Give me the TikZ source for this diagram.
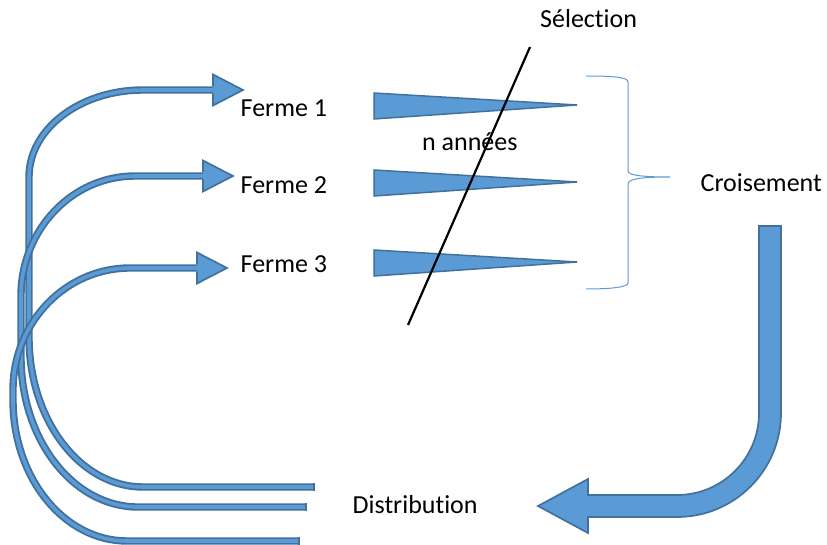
\documentclass[tikz,border=0pt]{standalone}
\usepackage{fontspec}
\setmainfont{Carlito}[Ligatures=NoCommon]
\usepackage{xcolor}
\usepackage{tikz}
\usetikzlibrary{calc}

\definecolor{bleu}{HTML}{5B9BD5}
\definecolor{bleufonce}{HTML}{41719C}

\begin{document}
\begin{tikzpicture}[x=1pt,y=-1pt,
		tube/.style={draw=bleufonce,double=bleu,double distance=3.6pt,line width=1.9pt},
		bout/.style={draw=bleufonce,line width=1.9pt},
		tete/.style={fill=bleu,draw=bleufonce,line width=1.7pt,line join=miter},
		coin/.style={fill=bleu,draw=bleufonce,line width=1.5pt},
		etiq/.style={anchor=base west,inner sep=0pt,font=\fontsize{26}{31}\selectfont}]
		\useasboundingbox (0,0) rectangle (827,545);
		
		\node[etiq] (sel) at (540,27.7) {Sélection};
		\node[etiq] (f1) at (240.5,116.5) {Ferme 1};
		\node[etiq] (f2) at (240.5,193.3) {Ferme 2};
		\node[etiq] (f3) at (240.5,272.5) {Ferme 3};
		\node[etiq] (ans) at (422,150.5) {n années};
		\node[etiq] (crois) at (700.5,191.7) {Croisement};
		\node[etiq] (distr) at (352.5,513.3) {Distribution};
		
		\coordinate (A) at (313,487);
		\coordinate (B) at (305,507);
		\coordinate (C) at (298,541);
		\draw[tube] (A) -- (143,487) arc[start angle=90,end angle=180,x radius=114,y radius=150] -- (29,177) arc[start angle=180,end angle=270,x radius=114,y radius=87] -- (215,90);
		\draw[bout] ($(A)+(0.9,-3.7)$) -- ($(A)+(0.9,3.7)$);
		\fill[tete] (213,86.5) -- (213,74.5) -- (243,90) -- (213,105.5) -- (213,93.5);
		\draw[tube] (B) -- (138,507) arc[start angle=90,end angle=180,x radius=117,y radius=150] -- (21,296) arc[start angle=180,end angle=270,x radius=114,y radius=120] -- (205,176);
		\draw[bout] ($(B)+(0.9,-3.7)$) -- ($(B)+(0.9,3.7)$);
		\fill[tete] (203,172.5) -- (203,160.5) -- (233,176) -- (203,191.5) -- (203,179.5);
		\draw[tube] (C) -- (127,541) arc[start angle=90,end angle=180,x radius=114,y radius=141] -- (13,390) arc[start angle=180,end angle=270,x radius=117,y radius=122] -- (199,268);
		\draw[bout] ($(C)+(0.9,-3.7)$) -- ($(C)+(0.9,3.7)$);
		\fill[tete] (197,264.5) -- (197,252.5) -- (227,268) -- (197,283.5) -- (197,271.5);
		
		\draw[coin] (374,93) -- (577,105) -- (374,119) -- cycle;
		\draw[coin] (374,170) -- (577,182) -- (374,196) -- cycle;
		\draw[coin] (374,250) -- (577,262) -- (374,276) -- cycle;
		
		\coordinate (S1) at (530,47);
		\coordinate (S2) at (408,325);
		\draw[line width=2.2pt] (S1) -- (S2);
		
		\draw[bleu,line width=1pt] (586,76) .. controls (612,76) and (628,77) .. (628,82) -- (628,171) .. controls (628,175) and (640,177) .. (670,177) .. controls (640,177) and (628,179) .. (628,184) -- (628,283) .. controls (628,287) and (612,289) .. (586,289);
		
		\draw[tete] (759,226) -- (781,226) -- (781,413) arc[start angle=0,end angle=90,radius=104] -- (588,517) -- (588,533) -- (538,506) -- (588,479) -- (588,495) -- (677,495) arc[start angle=90,end angle=0,radius=82] -- cycle;
\end{tikzpicture}
\end{document}
